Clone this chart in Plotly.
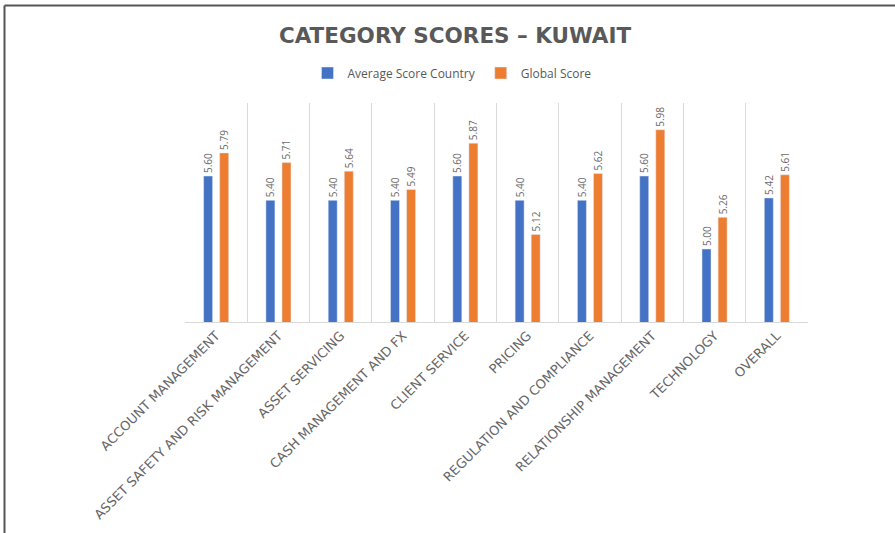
import plotly.graph_objects as go

categories = ["ACCOUNT MANAGEMENT", "ASSET SAFETY AND RISK MANAGEMENT", "ASSET SERVICING",
              "CASH MANAGEMENT AND FX", "CLIENT SERVICE", "PRICING",
              "REGULATION AND COMPLIANCE", "RELATIONSHIP MANAGEMENT", "TECHNOLOGY", "OVERALL"]
avg_country = [5.60, 5.40, 5.40, 5.40, 5.60, 5.40, 5.40, 5.60, 5.00, 5.42]
global_score = [5.79, 5.71, 5.64, 5.49, 5.87, 5.12, 5.62, 5.98, 5.26, 5.61]

W, H = 895, 533
L, R, T, B = 185, 808, 103, 322

font_family = "Open Sans, Liberation Sans, sans-serif"
wide_family = "DejaVu Sans, sans-serif"
gray = "#595959"

fig = go.Figure()
fig.add_trace(go.Bar(name="Average Score Country", x=categories, y=avg_country,
                     marker_color="#4472C4",
                     text=[f"{v:.2f}" for v in avg_country], textposition="outside",
                     textangle=-90, constraintext="none", cliponaxis=False,
                     textfont=dict(size=10, color="#6b6b6b", family=font_family)))
fig.add_trace(go.Bar(name="Global Score", x=categories, y=global_score,
                     marker_color="#ED7D31",
                     text=[f"{v:.2f}" for v in global_score], textposition="outside",
                     textangle=-90, constraintext="none", cliponaxis=False,
                     textfont=dict(size=10, color="#6b6b6b", family=font_family)))

def px_x(p):
    return (p - L) / (R - L)

def px_y(p):
    return (B - p) / (B - T)

fig.update_layout(
    width=W, height=H,
    margin=dict(l=L, r=W - R, t=T, b=H - B, pad=0),
    paper_bgcolor="white", plot_bgcolor="white",
    barmode="group", bargap=0.484, bargroupgap=0.44,
    title=dict(text="<b>CATEGORY SCORES – KUWAIT</b>", x=455 / W, xref="container",
               xanchor="center", y=1 - 35 / H, yref="container", yanchor="middle",
               font=dict(size=21.5, color=gray, family=wide_family)),
    legend=dict(orientation="h", x=px_x(452), xanchor="center", y=px_y(73), yanchor="middle",
                font=dict(size=12, color=gray, family=font_family),
                itemwidth=30, tracegroupgap=0, bgcolor="rgba(0,0,0,0)"),
    showlegend=True,
    xaxis=dict(tickson="boundaries", showgrid=True, gridcolor="#d9d9d9", gridwidth=1,
               showline=True, linecolor="#d9d9d9", linewidth=1, ticks="",
               tickangle=-45, tickfont=dict(size=13, color="#666666", family=wide_family)),
    yaxis=dict(range=[4.4, 6.2], showgrid=False, showticklabels=False, zeroline=False,
               showline=False, ticks=""),
    shapes=[
        dict(type="line", xref="paper", yref="paper", x0=px_x(4.5), x1=px_x(896),
             y0=px_y(5.5), y1=px_y(5.5), line=dict(color="#555555", width=2)),
        dict(type="line", xref="paper", yref="paper", x0=px_x(4.5), x1=px_x(4.5),
             y0=px_y(5.5), y1=px_y(534), line=dict(color="#555555", width=2)),
    ],
)

fig.write_html("out.html", config={"displayModeBar": False},
               post_script="document.body.style.margin='0';")
